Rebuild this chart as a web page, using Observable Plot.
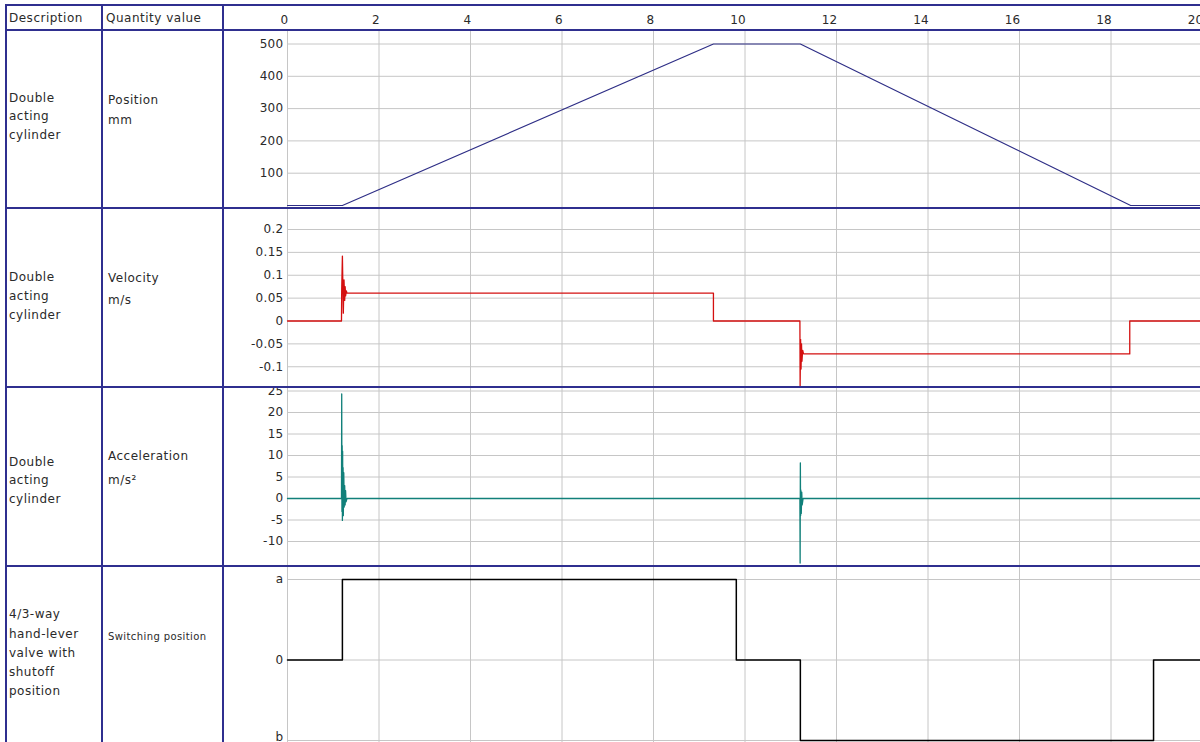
<!DOCTYPE html>
<html>
<head>
<meta charset="utf-8">
<script src="https://cdn.jsdelivr.net/npm/d3@7"></script>
<script src="https://cdn.jsdelivr.net/npm/@observablehq/plot@0.6"></script>
<style>
  html, body { margin: 0; padding: 0; background: #fff; overflow: hidden; }
  #root { position: relative; width: 1200px; height: 742px; overflow: hidden; background: #fff;
          font-family: "DejaVu Sans", sans-serif; color: #2a2a2a; }
  .panel { position: absolute; left: 223px; }
  .panel svg { display: block; }
  .hline { position: absolute; height: 2px; background: #2f2f8f; z-index: 5; }
  .vline { position: absolute; width: 2px; background: #2f2f8f; z-index: 5; }
  .txt { position: absolute; font-size: 12px; letter-spacing: 0.5px; white-space: pre; z-index: 6; }
</style>
</head>
<body>
<div id="root"></div>
<script>
// ---- data ----
const xTicks = [0, 2, 4, 6, 8, 10, 12, 14, 16, 18, 20];

const posTime = [0, 1.2, 9.31, 11.21, 18.43, 20];
const posValue = [0, 0, 500, 500, 0, 0];
const posTicks = [100, 200, 300, 400, 500];

const velTime = [0, 1.18, 1.185, 1.2, 1.22, 1.235, 1.25, 1.26, 1.27, 1.285, 1.3, 9.31, 9.31,
                 11.2, 11.205, 11.215, 11.225, 11.235, 11.245, 11.26, 11.28, 18.41, 18.41, 20];
const velValue = [0, 0, 0.07, 0.142, 0.017, 0.09, 0.045, 0.075, 0.055, 0.066, 0.061, 0.061, 0,
                  0, -0.142, -0.04, -0.105, -0.05, -0.088, -0.064, -0.072, -0.072, 0, 0];
const velTicks = [-0.1, -0.05, 0, 0.05, 0.1, 0.15, 0.2];

const accTime = [0, 1.18, 1.185, 1.19, 1.195, 1.2, 1.205, 1.21, 1.215, 1.22, 1.23, 1.24, 1.25, 1.26, 1.27, 1.28, 1.3,
                 11.2, 11.205, 11.21, 11.215, 11.22, 11.23, 11.24, 11.25, 11.27, 20];
const accValue = [0, 0, 24.3, -3, 12.3, -5.1, 11, -3, 7.2, -4, 6, -2, 3, -1.5, 1.8, -0.8, 0,
                  0, -15, 8.3, -4, 2, -3.5, 1.5, -1.5, 0, 0];
const accTicks = [-10, -5, 0, 5, 10, 15, 20, 25];

const swTime = [0, 1.2, 9.81, 11.21, 18.93, 20];
const swValue = [0, 1, 0, -1, 0, 0];
const swTicks = [-1, 0, 1];
const swLabels = {"-1": "b", "0": "0", "1": "a"};

const headers = ["Description", "Quantity value"];
const rows = [
  {desc: ["Double", "acting", "cylinder"], qty: ["Position", "mm"]},
  {desc: ["Double", "acting", "cylinder"], qty: ["Velocity", "m/s"]},
  {desc: ["Double", "acting", "cylinder"], qty: ["Acceleration", "m/s²"]},
  {desc: ["4/3-way", "hand-lever", "valve with", "shutoff", "position"], qty: ["Switching position"]}
];

// ---- layout ----
const root = document.getElementById("root");
const W = 977;
const xRange = [64, 979];
const gridColor = "#c6c6c6";
const baseStyle = {fontFamily: "DejaVu Sans, sans-serif", fontSize: "12px", color: "#2a2a2a",
                   background: "transparent", letterSpacing: "0.3px"};
const fmt = d => String(d);

function addPanel(top, plot) {
  const div = document.createElement("div");
  div.className = "panel";
  div.style.top = top + "px";
  div.appendChild(plot);
  root.appendChild(div);
}

function series(t, v) { return t.map((d, i) => ({t: d, v: v[i]})); }

// Position panel (includes header x-axis)
addPanel(5, Plot.plot({
  width: W, height: 203, marginLeft: 64, marginRight: 0, marginTop: 25, marginBottom: 0,
  style: baseStyle,
  x: {domain: [0, 20], range: xRange},
  y: {domain: [0, 500], range: [200, 38.5]},
  marks: [
    Plot.gridX(xTicks, {stroke: gridColor, strokeOpacity: 1}),
    Plot.gridY(posTicks, {stroke: gridColor, strokeOpacity: 1}),
    Plot.axisX(xTicks, {anchor: "top", tickSize: 0, tickPadding: 7, textAnchor: "end", dx: 1, tickFormat: fmt, label: null}),
    Plot.axisY(posTicks, {tickSize: 0, tickPadding: 4, tickFormat: fmt, label: null}),
    Plot.line(series(posTime, posValue), {x: "t", y: "v", stroke: "#2e2e86", strokeWidth: 1.2})
  ]
}));

// Velocity panel
addPanel(208, Plot.plot({
  width: W, height: 179, marginLeft: 64, marginRight: 0, marginTop: 0, marginBottom: 0,
  style: baseStyle,
  x: {domain: [0, 20], range: xRange, axis: null},
  y: {domain: [0, 0.2], range: [112.5, 21]},
  marks: [
    Plot.gridX(xTicks, {stroke: gridColor, strokeOpacity: 1}),
    Plot.gridY(velTicks, {stroke: gridColor, strokeOpacity: 1}),
    Plot.axisY(velTicks, {tickSize: 0, tickPadding: 4, tickFormat: fmt, label: null}),
    Plot.line(series(velTime, velValue), {x: "t", y: "v", stroke: "#d41010", strokeWidth: 1.3})
  ]
}));

// Acceleration panel
addPanel(387, Plot.plot({
  width: W, height: 179, marginLeft: 64, marginRight: 0, marginTop: 0, marginBottom: 0,
  style: baseStyle,
  x: {domain: [0, 20], range: xRange, axis: null},
  y: {domain: [0, 20], range: [111, 25]},
  marks: [
    Plot.gridX(xTicks, {stroke: gridColor, strokeOpacity: 1}),
    Plot.gridY(accTicks, {stroke: gridColor, strokeOpacity: 1}),
    Plot.axisY(accTicks, {tickSize: 0, tickPadding: 4, tickFormat: fmt, label: null}),
    Plot.line(series(accTime, accValue), {x: "t", y: "v", stroke: "#11807a", strokeWidth: 1.3})
  ]
}));

// Switching position panel
addPanel(566, Plot.plot({
  width: W, height: 176, marginLeft: 64, marginRight: 0, marginTop: 0, marginBottom: 0,
  style: baseStyle,
  x: {domain: [0, 20], range: xRange, axis: null},
  y: {domain: [-1, 1], range: [174, 13]},
  marks: [
    Plot.gridX(xTicks, {stroke: gridColor, strokeOpacity: 1}),
    Plot.gridY(swTicks, {stroke: gridColor, strokeOpacity: 1}),
    Plot.axisY(swTicks.filter(d => d !== -1), {tickSize: 0, tickPadding: 4, tickFormat: d => swLabels[String(d)], label: null}),
    Plot.axisY([-1], {tickSize: 0, tickPadding: 4, dy: -3, tickFormat: d => swLabels[String(d)], label: null}),
    Plot.line(series(swTime, swValue), {x: "t", y: "v", curve: "step-after", stroke: "#000", strokeWidth: 1.5})
  ]
}));

// ---- table borders ----
function hline(y, x0, x1) {
  const d = document.createElement("div"); d.className = "hline";
  d.style.top = (y - 1) + "px"; d.style.left = x0 + "px"; d.style.width = (x1 - x0) + "px";
  root.appendChild(d);
}
function vline(x, y0, y1) {
  const d = document.createElement("div"); d.className = "vline";
  d.style.left = (x - 1) + "px"; d.style.top = y0 + "px"; d.style.height = (y1 - y0) + "px";
  root.appendChild(d);
}
[5, 30, 208, 387, 566].forEach(y => hline(y, 5, 1200));
[6, 102, 223].forEach(x => vline(x, 4, 742));

// ---- table texts ----
function text(lines, x, firstCenter, lineH, size) {
  const d = document.createElement("div"); d.className = "txt";
  d.style.left = x + "px";
  d.style.top = (firstCenter - lineH / 2) + "px";
  d.style.lineHeight = lineH + "px";
  if (size) { d.style.fontSize = size + "px"; d.style.letterSpacing = "0.4px"; }
  d.textContent = lines.join("\n");
  root.appendChild(d);
}
text([headers[0]], 9, 18, 18);
text([headers[1]], 106, 18, 18);
const descPos = [[98, 18.5], [277, 19], [462, 18.5], [615, 19.2]];
const qtyPos = [[100, 20, null], [278, 22, null], [456, 24, null], [637, 18, 10]];
rows.forEach((r, i) => {
  text(r.desc, 9, descPos[i][0], descPos[i][1]);
  text(r.qty, 108, qtyPos[i][0], qtyPos[i][1], qtyPos[i][2]);
});
</script>
</body>
</html>
